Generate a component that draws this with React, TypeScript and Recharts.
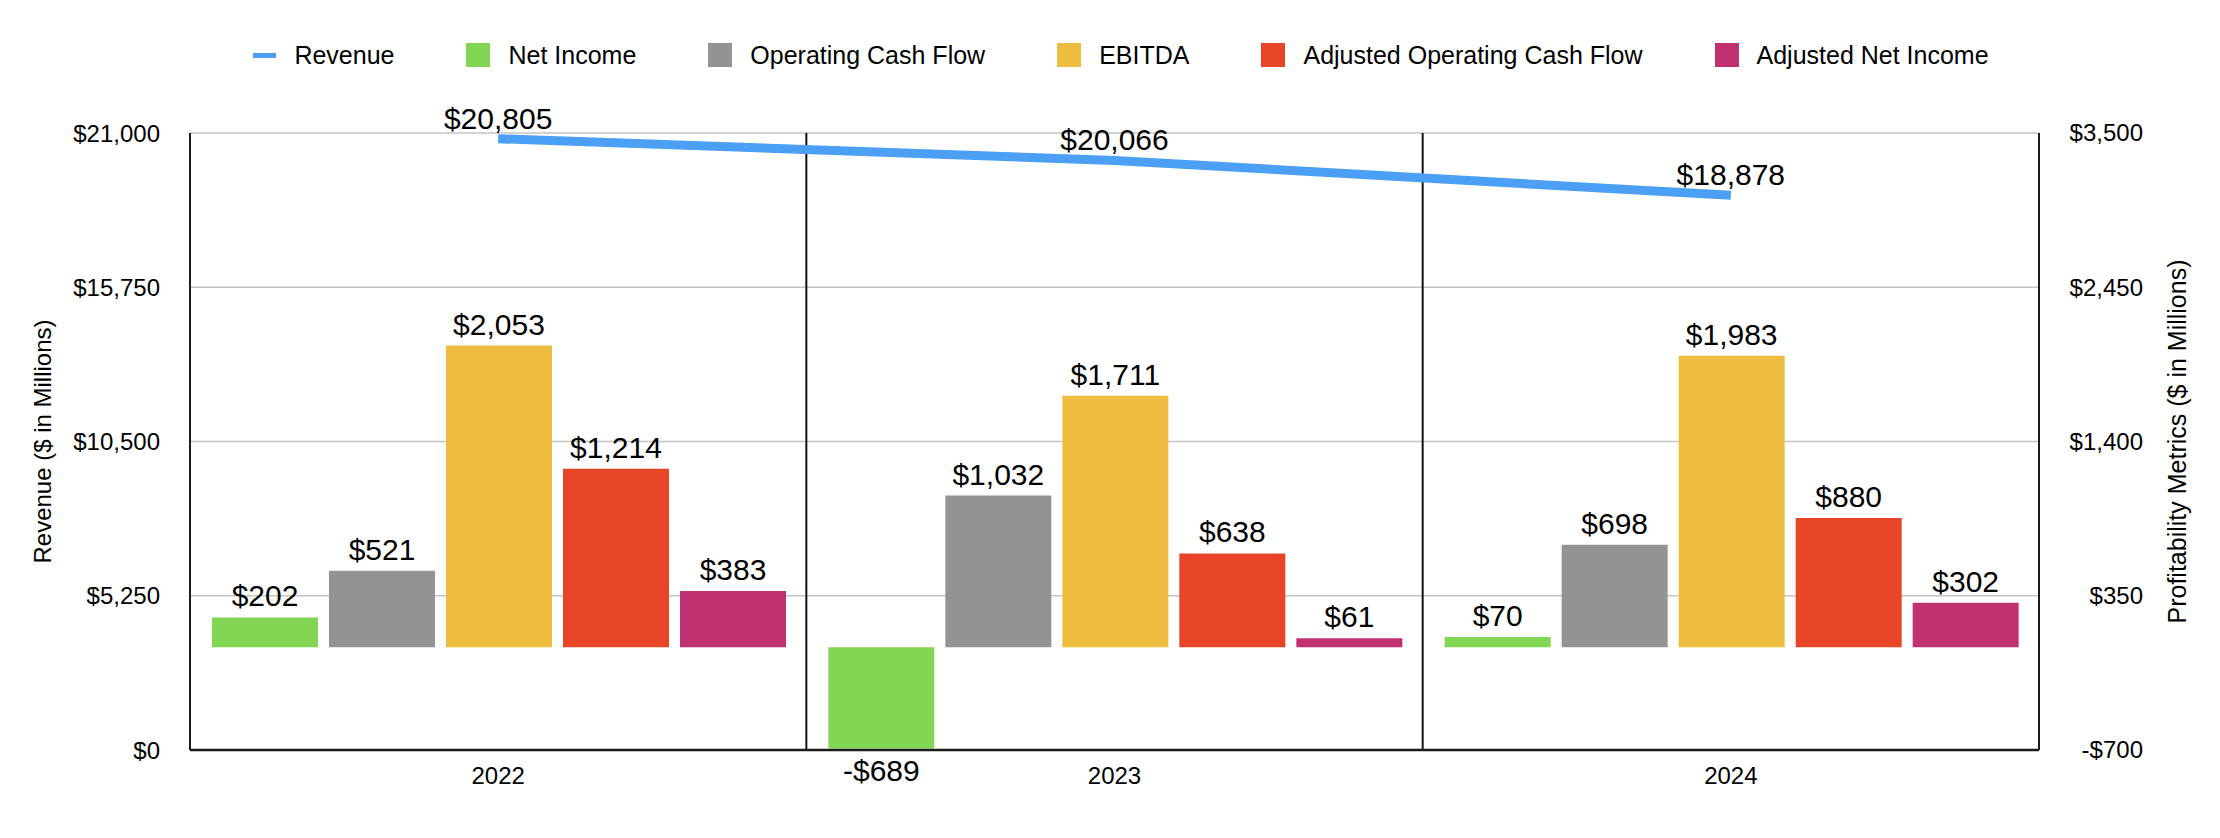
import React from "react";
import {
  ComposedChart,
  Bar,
  Line,
  XAxis,
  YAxis,
  CartesianGrid,
  ReferenceLine,
  LabelList,
  Legend,
} from "recharts";

const years = ["2022", "2023", "2024"];
const revenue = [20805, 20066, 18878];
const netIncome = [202, -689, 70];
const operatingCashFlow = [521, 1032, 698];
const ebitda = [2053, 1711, 1983];
const adjustedOperatingCashFlow = [1214, 638, 880];
const adjustedNetIncome = [383, 61, 302];

const leftTicks = [0, 5250, 10500, 15750, 21000];
const rightTicks = [-700, 350, 1400, 2450, 3500];

const FONT = '"Liberation Sans", Arial, Helvetica, sans-serif';

const barSeries = [
  { key: "netIncome", name: "Net Income", color: "#82d653" },
  { key: "operatingCashFlow", name: "Operating Cash Flow", color: "#939393" },
  { key: "ebitda", name: "EBITDA", color: "#eebd40" },
  { key: "adjustedOperatingCashFlow", name: "Adjusted Operating Cash Flow", color: "#e84427" },
  { key: "adjustedNetIncome", name: "Adjusted Net Income", color: "#c03172" },
];

const data = years.map((year, i) => ({
  year,
  revenue: revenue[i],
  netIncome: netIncome[i],
  operatingCashFlow: operatingCashFlow[i],
  ebitda: ebitda[i],
  adjustedOperatingCashFlow: adjustedOperatingCashFlow[i],
  adjustedNetIncome: adjustedNetIncome[i],
}));

const money = (v: number) =>
  v < 0 ? `-$${Math.abs(v).toLocaleString("en-US")}` : `$${v.toLocaleString("en-US")}`;

function RightTick({ x, y, payload }: any) {
  return (
    <text x={x + 104} y={y} dy="0.35em" textAnchor="end" fontSize={24} fill="#000" fontFamily={FONT}>
      {money(payload.value)}
    </text>
  );
}

function AxisTitle({ viewBox, value, dx, size = 24 }: any) {
  const cx = viewBox.x + dx;
  const cy = viewBox.y + viewBox.height / 2;
  return (
    <text
      x={cx}
      y={cy}
      transform={`rotate(-90, ${cx}, ${cy})`}
      textAnchor="middle"
      dominantBaseline="central"
      fontSize={size}
      fill="#000"
      fontFamily={FONT}
    >
      {value}
    </text>
  );
}

function LegendRow() {
  return (
    <div
      style={{
        display: "flex",
        justifyContent: "center",
        alignItems: "center",
        height: 30,
        paddingLeft: 22,
        fontFamily: FONT,
        fontSize: 25,
        color: "#000",
      }}
    >
      <div style={{ display: "flex", alignItems: "center", marginRight: 72 }}>
        <div style={{ width: 23, height: 5, background: "#4b9ff5", marginRight: 18 }} />
        <span>Revenue</span>
      </div>
      {barSeries.map((s, i) => (
        <div
          key={s.key}
          style={{ display: "flex", alignItems: "center", marginRight: i === barSeries.length - 1 ? 0 : 72 }}
        >
          <div style={{ width: 24, height: 24, background: s.color, marginRight: 18 }} />
          <span>{s.name}</span>
        </div>
      ))}
    </div>
  );
}

export default function App() {
  return (
    <div
      style={{
        position: "absolute",
        left: 0,
        top: 0,
        width: 2220,
        height: 838,
        background: "#fff",
        fontFamily: FONT,
      }}
    >
      <ComposedChart
        width={2220}
        height={838}
        data={data}
        margin={{ top: 133, right: 0, bottom: 28, left: 0 }}
        barCategoryGap={22}
        barGap={11}
      >
        <CartesianGrid yAxisId="left" vertical={false} stroke="#c4c4c4" strokeWidth={1.5} />
        <XAxis
          dataKey="year"
          height={60}
          tickLine={false}
          tickSize={0}
          tickMargin={17}
          axisLine={{ stroke: "#1a1a1a", strokeWidth: 2.5 }}
          tick={{ fontSize: 24, fill: "#000", fontFamily: FONT }}
        />
        <YAxis
          yAxisId="left"
          width={190}
          domain={[0, 21000]}
          ticks={leftTicks}
          tickLine={false}
          tickSize={0}
          tickMargin={30}
          axisLine={{ stroke: "#1a1a1a", strokeWidth: 2 }}
          tick={{ fontSize: 24, fill: "#000", fontFamily: FONT }}
          tickFormatter={money}
          label={<AxisTitle value="Revenue ($ in Millions)" dx={42} />}
        />
        <YAxis
          yAxisId="right"
          orientation="right"
          width={181}
          domain={[-700, 3500]}
          ticks={rightTicks}
          tickLine={false}
          tickSize={0}
          tickMargin={0}
          axisLine={{ stroke: "#1a1a1a", strokeWidth: 2 }}
          tick={<RightTick />}
          label={<AxisTitle value="Profitability Metrics ($ in Millions)" dx={138} size={25} />}
        />
        {years.slice(1).map((y) => (
          <ReferenceLine
            key={y}
            x={y}
            yAxisId="left"
            position="start"
            stroke="#111"
            strokeWidth={2}
          />
        ))}
        <Legend
          verticalAlign="middle"
          align="center"
          layout="horizontal"
          wrapperStyle={{ top: 40, left: 0, width: 2220, height: 30 }}
          content={() => <LegendRow />}
        />
        {barSeries.map((s) => (
          <Bar
            key={s.key}
            yAxisId="right"
            dataKey={s.key}
            name={s.name}
            fill={s.color}
            isAnimationActive={false}
          >
            <LabelList
              dataKey={s.key}
              position="top"
              offset={11}
              formatter={(v: any) => money(Number(v))}
              fill="#000"
              fontSize={30}
              fontFamily={FONT}
            />
          </Bar>
        ))}
        <Line
          yAxisId="left"
          type="linear"
          dataKey="revenue"
          name="Revenue"
          stroke="#4b9ff5"
          strokeWidth={9}
          dot={false}
          activeDot={false}
          isAnimationActive={false}
        >
          <LabelList
            dataKey="revenue"
            position="top"
            offset={10}
            formatter={(v: any) => money(Number(v))}
            fill="#000"
            fontSize={30}
            fontFamily={FONT}
          />
        </Line>
      </ComposedChart>
    </div>
  );
}
